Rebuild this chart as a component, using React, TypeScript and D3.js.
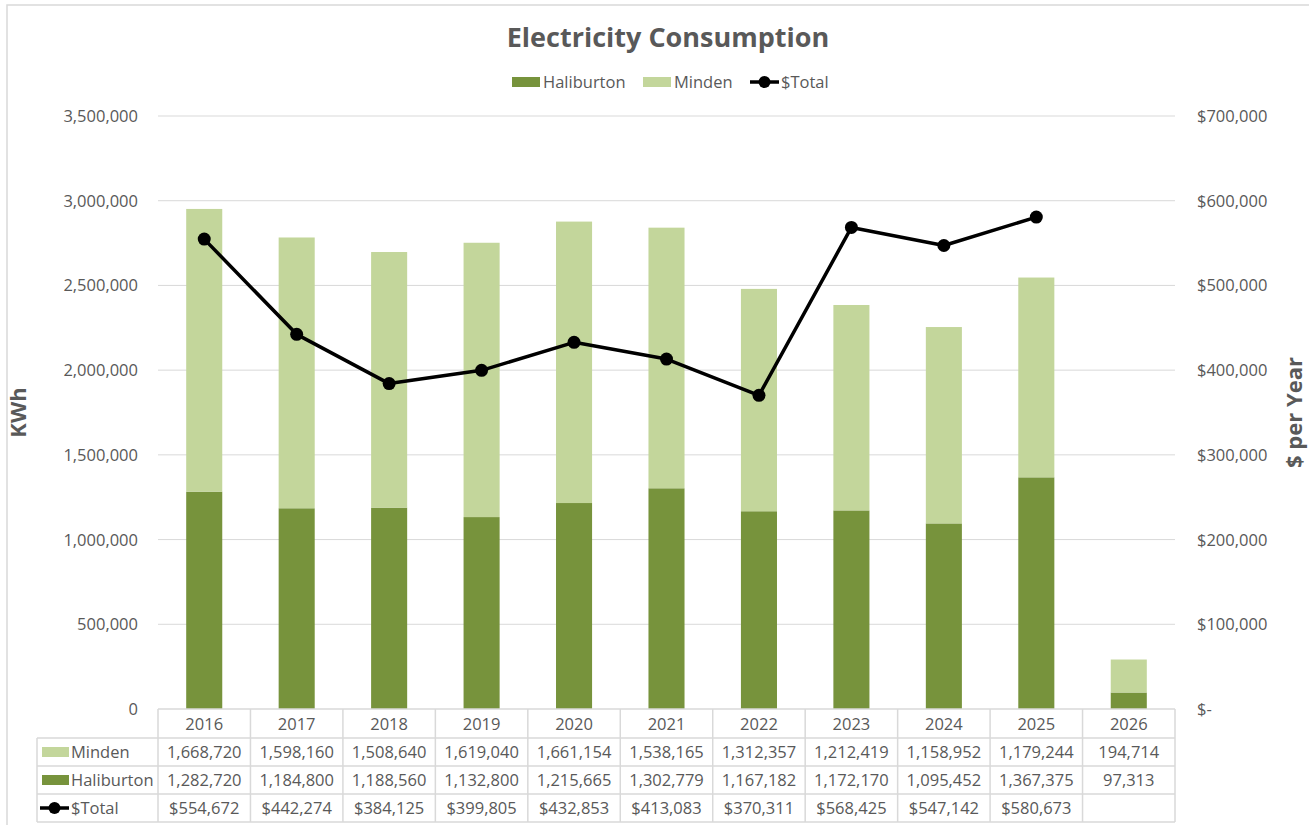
import * as d3 from 'd3';

const years = ['2016', '2017', '2018', '2019', '2020', '2021', '2022', '2023', '2024', '2025', '2026'];
const minden = [1668720, 1598160, 1508640, 1619040, 1661154, 1538165, 1312357, 1212419, 1158952, 1179244, 194714];
const haliburton = [1282720, 1184800, 1188560, 1132800, 1215665, 1302779, 1167182, 1172170, 1095452, 1367375, 97313];
const total: (number | null)[] = [554672, 442274, 384125, 399805, 432853, 413083, 370311, 568425, 547142, 580673, null];
const kwhTicks = [0, 500000, 1000000, 1500000, 2000000, 2500000, 3000000, 3500000];
const dollarTicks = [0, 100000, 200000, 300000, 400000, 500000, 600000, 700000];

const HALI = '#77933c';
const MIND = '#c3d69b';
const TXT = '#595959';
const GRID = '#d9d9d9';
const FONT = '"Open Sans", "Liberation Sans", sans-serif';
const FS = 16.5;

export default function App() {
  const W = 1309;
  const H = 825;
  const left = 158;
  const right = 1175;
  const top = 116;
  const bottom = 709;

  const x = d3.scaleBand<string>().domain(years).range([left, right]).padding(0);
  const yL = d3.scaleLinear().domain([0, 3500000]).range([bottom, top]);
  const yR = d3.scaleLinear().domain([0, 700000]).range([bottom, top]);
  const bw = x.bandwidth() * 0.39;
  const cx = (y: string) => x(y)! + x.bandwidth() / 2;

  const fmt = d3.format(',');
  const money = (v: number) => (v === 0 ? '$-' : '$' + fmt(v));

  const line = d3
    .line<number | null>()
    .defined((d) => d != null)
    .x((_, i) => cx(years[i]))
    .y((d) => yR(d as number));

  const rowY = [709, 738, 766, 794, 822];
  const tableLeft = 37;
  const rowMid = (r: number) => (rowY[r] + rowY[r + 1]) / 2;

  return (
    <svg
      width={W}
      height={H}
      style={{ position: 'absolute', left: 0, top: 0, background: '#fff', fontFamily: FONT }}
    >
      <rect x={7} y={5} width={W + 10} height={H + 10} fill="#fff" stroke={GRID} strokeWidth={1.5} />

      <text x={668} y={47} textAnchor="middle" fontSize={27} fontWeight="bold" fill={TXT}>
        Electricity Consumption
      </text>

      {/* legend */}
      <g fontSize={FS} fill={TXT}>
        <rect x={512} y={77} width={28} height={10} fill={HALI} />
        <text x={543} y={88}>Haliburton</text>
        <rect x={643} y={77} width={28} height={10} fill={MIND} />
        <text x={674} y={88}>Minden</text>
        <line x1={750} x2={779} y1={82} y2={82} stroke="#000" strokeWidth={3.5} />
        <circle cx={764.5} cy={82} r={6} fill="#000" />
        <text x={781} y={88}>$Total</text>
      </g>

      {/* grid */}
      {kwhTicks.slice(1).map((t) => (
        <line key={t} x1={left} x2={right} y1={yL(t)} y2={yL(t)} stroke={GRID} strokeWidth={1} />
      ))}

      {/* left axis */}
      <g fontSize={FS} fill={TXT} textAnchor="end">
        {kwhTicks.map((t) => (
          <text key={t} x={138} y={yL(t) + 6}>
            {fmt(t)}
          </text>
        ))}
      </g>
      {/* right axis */}
      <g fontSize={FS} fill={TXT} textAnchor="start">
        {dollarTicks.map((t) => (
          <text key={t} x={1197} y={yR(t) + 6}>
            {money(t)}
          </text>
        ))}
      </g>

      <text
        transform={`translate(26,${(top + bottom) / 2}) rotate(-90)`}
        textAnchor="middle"
        fontSize={22}
        fontWeight="bold"
        fill={TXT}
      >
        KWh
      </text>
      <text
        transform={`translate(1302,${(top + bottom) / 2}) rotate(-90)`}
        textAnchor="middle"
        fontSize={22}
        fontWeight="bold"
        fill={TXT}
      >
        $ per Year
      </text>

      {/* bars */}
      {years.map((yr, i) => (
        <g key={yr}>
          <rect
            x={cx(yr) - bw / 2}
            width={bw}
            y={yL(haliburton[i])}
            height={bottom - yL(haliburton[i])}
            fill={HALI}
          />
          <rect
            x={cx(yr) - bw / 2}
            width={bw}
            y={yL(haliburton[i] + minden[i])}
            height={yL(haliburton[i]) - yL(haliburton[i] + minden[i])}
            fill={MIND}
          />
        </g>
      ))}

      {/* total line */}
      <path d={line(total) || ''} fill="none" stroke="#000" strokeWidth={3.5} strokeLinejoin="round" />
      {total.map((v, i) =>
        v == null ? null : <circle key={i} cx={cx(years[i])} cy={yR(v)} r={6.5} fill="#000" />
      )}

      {/* data table */}
      <g stroke={GRID} strokeWidth={1.5} fill="none">
        <line x1={left} x2={right} y1={rowY[0]} y2={rowY[0]} />
        {rowY.slice(1).map((ry) => (
          <line key={ry} x1={tableLeft} x2={right} y1={ry} y2={ry} />
        ))}
        <line x1={tableLeft} x2={tableLeft} y1={rowY[1]} y2={rowY[4]} />
        {years.map((yr) => (
          <line key={yr} x1={x(yr)!} x2={x(yr)!} y1={rowY[0]} y2={rowY[4]} />
        ))}
        <line x1={right} x2={right} y1={rowY[0]} y2={rowY[4]} />
      </g>
      <g fontSize={FS} fill={TXT} textAnchor="middle">
        {years.map((yr, i) => (
          <g key={yr}>
            <text x={cx(yr)} y={rowMid(0) + 6}>{yr}</text>
            <text x={cx(yr)} y={rowMid(1) + 6}>{fmt(minden[i])}</text>
            <text x={cx(yr)} y={rowMid(2) + 6}>{fmt(haliburton[i])}</text>
            <text x={cx(yr)} y={rowMid(3) + 6}>{total[i] == null ? '' : money(total[i] as number)}</text>
          </g>
        ))}
      </g>
      <g fontSize={FS} fill={TXT}>
        <rect x={42} y={rowMid(1) - 5} width={27} height={10} fill={MIND} />
        <text x={71} y={rowMid(1) + 6}>Minden</text>
        <rect x={42} y={rowMid(2) - 5} width={27} height={10} fill={HALI} />
        <text x={71} y={rowMid(2) + 6}>Haliburton</text>
        <line x1={40} x2={69} y1={rowMid(3)} y2={rowMid(3)} stroke="#000" strokeWidth={3.5} />
        <circle cx={54.5} cy={rowMid(3)} r={6} fill="#000" />
        <text x={71} y={rowMid(3) + 6}>$Total</text>
      </g>
    </svg>
  );
}
